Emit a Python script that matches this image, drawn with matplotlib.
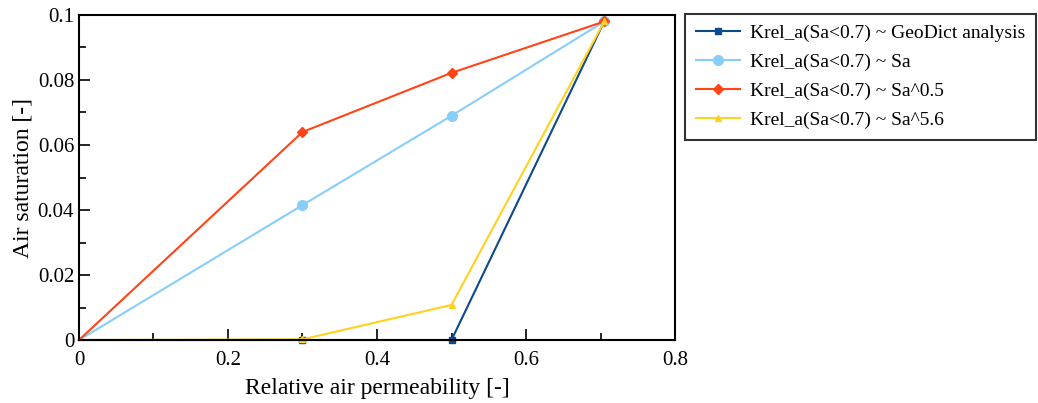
import matplotlib.pyplot as plt

plt.rcParams['font.family'] = ['Liberation Serif', 'DejaVu Serif']

# relative air permeability (x) and air saturation (y) for each model
krel = [0, 0.3, 0.5, 0.705]
sat_geodict = [0, 0, 0, 0.098]
sat_lin = [0, 0.0415, 0.069, 0.098]
sat_sqrt = [0, 0.064, 0.0822, 0.098]
sat_pow56 = [0, 0.0002, 0.0108, 0.098]

labels = ['Krel_a(Sa<0.7) ~ GeoDict analysis',
          'Krel_a(Sa<0.7) ~ Sa',
          'Krel_a(Sa<0.7) ~ Sa^0.5',
          'Krel_a(Sa<0.7) ~ Sa^5.6']
colors = ['#0b4a8b', '#87cefa', '#ff4517', '#ffd21f']
markers = ['s', 'o', 'D', '^']
msizes = [5, 7, 5, 5]

fig = plt.figure(figsize=(10.38, 4.03), dpi=100)
ax = fig.add_axes([0.0761, 0.1563, 0.5742, 0.8065])

for ys, lab, c, m, ms in zip([sat_geodict, sat_lin, sat_sqrt, sat_pow56],
                             labels, colors, markers, msizes):
    ax.plot(krel, ys, color=c, marker=m, markersize=ms, lw=1.5, label=lab,
            markevery=[1, 2, 3], clip_on=False, zorder=3)

ax.set_xlim(0, 0.8)
ax.set_ylim(0, 0.1)
ax.set_xticks([0, 0.2, 0.4, 0.6, 0.8])
ax.set_xticklabels(['0', '0.2', '0.4', '0.6', '0.8'])
ax.set_xticks([0.1, 0.3, 0.5, 0.7], minor=True)
ax.set_yticks([0, 0.02, 0.04, 0.06, 0.08, 0.1])
ax.set_yticklabels(['0', '0.02', '0.04', '0.06', '0.08', '0.1'])
ax.set_yticks([0.01, 0.03, 0.05, 0.07, 0.09], minor=True)
ax.tick_params(which='both', direction='in', labelsize=15, top=False, right=False)
ax.tick_params(which='major', length=8, width=1.2)
ax.tick_params(which='minor', length=5, width=1.2)
ax.tick_params(axis='x', pad=8)
for sp in ax.spines.values():
    sp.set_linewidth(1.5)
    sp.set_zorder(4)

ax.set_xlabel('Relative air permeability [-]', fontsize=17, labelpad=6)
ax.set_ylabel('Air saturation [-]', fontsize=17, labelpad=3)

leg = fig.legend(loc='upper left', bbox_to_anchor=(0.66, 0.966), fontsize=14,
                 frameon=True, fancybox=False, edgecolor='black',
                 borderaxespad=0, handlelength=2.3, borderpad=0.55,
                 labelspacing=0.58, handletextpad=0.5)
leg.get_frame().set_linewidth(1.5)

fig.savefig('out.png', dpi=100)
